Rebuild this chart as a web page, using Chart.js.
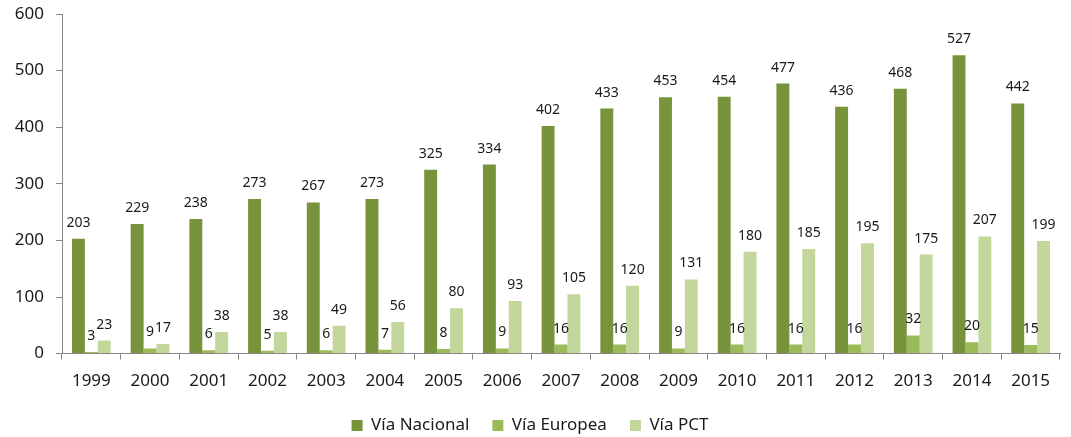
<!DOCTYPE html>
<html>
<head>
<meta charset="utf-8">
<script src="https://cdn.jsdelivr.net/npm/chart.js@4.4.1/dist/chart.umd.min.js"></script>
<style>
  html, body { margin: 0; padding: 0; background: #fff; }
  #wrap { width: 1071px; height: 437px; }
</style>
</head>
<body>
<div id="wrap"><canvas id="chart" width="1071" height="437"></canvas></div>
<script>
const years = ["1999", "2000", "2001", "2002", "2003", "2004", "2005", "2006", "2007",
               "2008", "2009", "2010", "2011", "2012", "2013", "2014", "2015"];
const viaNacional = [203, 229, 238, 273, 267, 273, 325, 334, 402, 433, 453, 454, 477, 436, 468, 527, 442];
const viaEuropea = [3, 9, 6, 5, 6, 7, 8, 9, 16, 16, 9, 16, 16, 16, 32, 20, 15];
const viaPCT = [23, 17, 38, 38, 49, 56, 80, 93, 105, 120, 131, 180, 185, 195, 175, 207, 199];

const FONT = "'Noto Sans', 'DejaVu Sans', sans-serif";

// draws the value above each bar
const valueLabels = {
    id: "valueLabels",
    afterDatasetsDraw(chart) {
        const ctx = chart.ctx;
        ctx.save();
        ctx.font = "14px " + FONT;
        ctx.fillStyle = "#1a1a1a";
        ctx.textAlign = "center";
        ctx.textBaseline = "bottom";
        chart.data.datasets.forEach((ds, i) => {
            const meta = chart.getDatasetMeta(i);
            meta.data.forEach((bar, j) => {
                ctx.fillText(ds.data[j], bar.x, bar.y - 9);
            });
        });
        ctx.restore();
    }
};

new Chart(document.getElementById("chart"), {
    type: "bar",
    data: {
        labels: years,
        datasets: [
            { label: "Vía Nacional", data: viaNacional, backgroundColor: "#77933C" },
            { label: "Vía Europea", data: viaEuropea, backgroundColor: "#9BBB59" },
            { label: "Vía PCT", data: viaPCT, backgroundColor: "#C3D69B" }
        ]
    },
    options: {
        responsive: false,
        animation: false,
        datasets: { bar: { categoryPercentage: 0.66, barPercentage: 1.0 } },
        layout: { padding: { left: 0, right: 11, top: 14, bottom: -7 } },
        scales: {
            x: {
                afterFit: function (scale) { scale.height = scale.height - 8; },
                grid: { display: true, drawOnChartArea: false, drawTicks: true, tickLength: 6, color: "#868686", offset: true },
                border: { color: "#868686" },
                ticks: { color: "#1a1a1a", font: { family: FONT, size: 17 }, padding: 11, maxRotation: 0 }
            },
            y: {
                min: 0, max: 600,
                afterFit: function (scale) {
                    scale.width = 62;
                    scale.paddingTop = 0;
                    scale.paddingBottom = 0;
                },
                grid: { display: true, drawOnChartArea: false, drawTicks: true, tickLength: 6, color: "#868686" },
                border: { color: "#868686" },
                ticks: { stepSize: 100, color: "#1a1a1a", font: { family: FONT, size: 17 }, padding: 12 }
            }
        },
        plugins: {
            legend: {
                position: "bottom",
                labels: { boxWidth: 11, boxHeight: 11, color: "#1a1a1a", font: { family: FONT, size: 17 }, padding: 23 }
            },
            tooltip: { enabled: false }
        }
    },
    plugins: [valueLabels]
});
</script>
</body>
</html>
